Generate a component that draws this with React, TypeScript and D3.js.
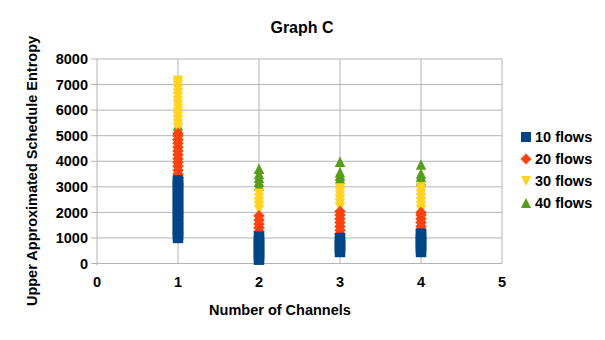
import React from "react";
import * as d3 from "d3";

const channels = [1, 2, 3, 4];
const seriesNames = ["10 flows", "20 flows", "30 flows", "40 flows"];
const seriesColors = ["#004586", "#ff420e", "#ffd320", "#579d1c"];
const seriesShapes = ["square", "diamond", "triangleDown", "triangleUp"];

// values per channel (index 0 -> 1 channel, ... index 3 -> 4 channels)
const flows10 = [
  [1000, 1120, 1250, 1380, 1500, 1640, 1760, 1900, 2030, 2150, 2290, 2410, 2540, 2680, 2800, 2930, 3050, 3180, 3250],
  [150, 280, 410, 540, 660, 790, 920, 1050],
  [450, 580, 700, 830, 1000],
  [450, 570, 700, 820, 950, 1080, 1170],
];
const flows20 = [
  [3350, 3500, 3650, 3800, 3950, 4100, 4250, 4400, 4550, 4700, 4850, 5000, 5100],
  [1250, 1400, 1550, 1700, 1870],
  [1150, 1300, 1450, 1600, 1750, 1900, 2030],
  [1300, 1450, 1600, 1750, 1900, 2000],
];
const flows30 = [
  [5300, 5450, 5600, 5750, 5900, 6050, 6200, 6350, 6500, 6650, 6800, 6950, 7050, 7150],
  [2100, 2250, 2400, 2550, 2730],
  [2200, 2350, 2500, 2650, 2800, 2930],
  [2100, 2250, 2400, 2550, 2700, 2850, 2980],
];
const flows40 = [
  [5000, 5200, 5400],
  [3050, 3200, 3350, 3500, 3710],
  [3320, 3430, 3570, 3980],
  [3250, 3400, 3520, 3870],
];
const seriesValues = [flows10, flows20, flows30, flows40];

const xTicks = [0, 1, 2, 3, 4, 5];
const yTicks = [0, 1000, 2000, 3000, 4000, 5000, 6000, 7000, 8000];

const FONT = "'Liberation Sans', Arial, sans-serif";

function markerPath(shape: string, cx: number, cy: number, s: number) {
  const h = s / 2;
  switch (shape) {
    case "square":
      return `M${cx - h},${cy - h}H${cx + h}V${cy + h}H${cx - h}Z`;
    case "diamond":
      return `M${cx},${cy - h - 0.5}L${cx + h + 0.5},${cy}L${cx},${cy + h + 0.5}L${cx - h - 0.5},${cy}Z`;
    case "triangleDown":
      return `M${cx - h},${cy - h}H${cx + h}L${cx},${cy + h}Z`;
    case "triangleUp":
    default:
      return `M${cx - h},${cy + h}H${cx + h}L${cx},${cy - h}Z`;
  }
}

export default function App() {
  const W = 605;
  const H = 340;
  const x = d3.scaleLinear().domain([0, 5]).range([97, 502]);
  const y = d3.scaleLinear().domain([0, 8000]).range([263.5, 59]);
  const grid = "#b3b3b3";
  const size = 10.5;

  const order = [3, 2, 1, 0];

  return (
    <svg
      width={W}
      height={H}
      style={{ position: "absolute", left: 0, top: 0, background: "#fff" }}
      fontFamily={FONT}
    >
      <rect width={W} height={H} fill="#fff" />
      {/* horizontal grid */}
      {yTicks.map((t) => (
        <line key={"h" + t} x1={x(0) - 6} x2={x(5)} y1={y(t)} y2={y(t)} stroke={grid} strokeWidth={1} />
      ))}
      {xTicks.map((t) => (
        <line key={"v" + t} x1={x(t)} x2={x(t)} y1={y(8000)} y2={y(0) + (t === 0 ? 2 : 0)} stroke={grid} strokeWidth={1} />
      ))}
      {/* y tick labels */}
      {yTicks.map((t) => (
        <text key={"yl" + t} x={88} y={y(t)} dy="0.36em" textAnchor="end" fontSize={14.5} fontWeight="bold" fill="#000">
          {t}
        </text>
      ))}
      {xTicks.map((t) => (
        <text key={"xl" + t} x={x(t)} y={287} textAnchor="middle" fontSize={14.5} fontWeight="bold" fill="#000">
          {t}
        </text>
      ))}
      {/* data */}
      {order.map((si) => (
        <g key={"s" + si} fill={seriesColors[si]}>
          {seriesValues[si].map((vals, ci) =>
            vals.map((v, k) => (
              <path key={ci + "-" + k} d={markerPath(seriesShapes[si], x(channels[ci]), y(v), size)} />
            ))
          )}
        </g>
      ))}
      {/* titles */}
      <text x={302} y={32.5} textAnchor="middle" fontSize={16} fontWeight="bold" fill="#000">
        Graph C
      </text>
      <text x={280} y={315} textAnchor="middle" fontSize={14.5} fontWeight="bold" fill="#000">
        Number of Channels
      </text>
      <text
        transform="translate(37,171) rotate(-90)"
        textAnchor="middle"
        fontSize={14.5}
        fontWeight="bold"
        fill="#000"
      >
        Upper Approximated Schedule Entropy
      </text>
      {/* legend */}
      {seriesNames.map((n, i) => (
        <g key={"lg" + i}>
          <path d={markerPath(seriesShapes[i], 526, 137 + i * 22, 10)} fill={seriesColors[i]} />
          <text x={535} y={137 + i * 22} dy="0.36em" fontSize={14.5} fontWeight="bold" fill="#000">
            {n}
          </text>
        </g>
      ))}
    </svg>
  );
}
